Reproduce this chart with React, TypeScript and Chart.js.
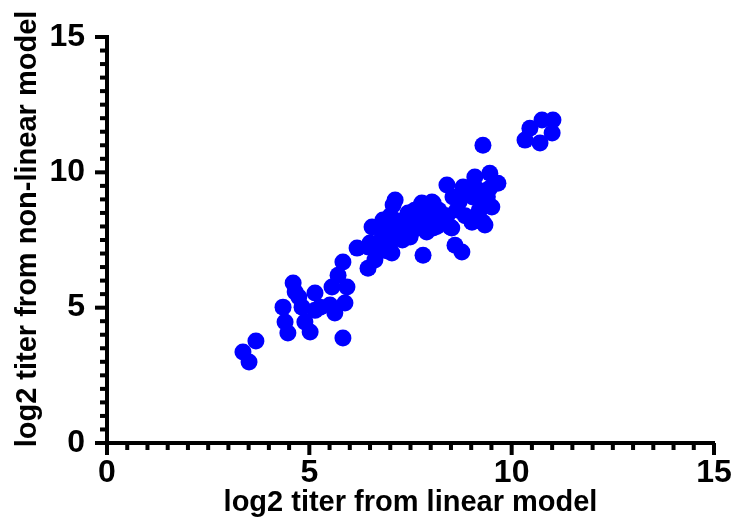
import React, { useEffect, useRef } from "react";
import { Chart, registerables } from "chart.js";

Chart.register(...registerables);

const xValues: number[] = [
  3.36, 3.51, 3.68,
  4.35, 4.6, 4.65, 4.4, 4.47, 4.82, 4.89, 5.02, 5.14, 5.14, 5.51, 5.63, 5.56, 5.71, 5.83, 5.83, 5.88, 5.93, 4.74, 5.27,
  6.18, 6.45, 6.5, 6.62, 6.55, 6.82, 7.04, 7.07, 7.44, 7.81, 7.73, 8.06,
  7.12, 7.44, 7.78, 8.03, 7.49, 7.9, 6.45, 7.24, 6.99,
  6.8, 6.9, 7.0, 7.1, 7.2, 7.3, 7.35, 7.5, 7.6, 7.7, 7.8, 7.9, 8.0, 8.2, 8.3, 7.0, 6.7, 6.9, 7.6, 8.15,
  8.4, 8.52, 8.6, 8.77, 9.02, 9.34, 9.09, 9.46, 9.66, 9.51, 9.29, 8.8, 8.55, 9.04, 9.29, 8.65, 9.29, 8.48, 8.1, 8.06,
  8.9, 9.1, 9.3, 9.45, 8.7, 9.2, 8.85, 9.4, 8.4, 8.7, 9.17,
  10.75, 11.02, 10.45, 10.33, 11.0, 10.7,
];

const yValues: number[] = [
  3.36, 2.99, 3.77,
  5.02, 5.91, 5.58, 4.47, 4.06, 5.02, 4.47, 4.1, 5.54, 4.9, 5.1, 4.8, 5.76, 6.2, 6.69, 3.88, 5.17, 5.76, 5.39, 5.02,
  7.2, 6.46, 7.39, 6.76, 7.98, 8.24, 7.02, 8.79, 7.76, 6.94, 8.72, 7.94,
  8.98, 8.5, 8.87, 8.9, 7.61, 7.8, 7.24, 7.94, 8.16,
  7.6, 7.9, 7.4, 7.7, 8.2, 7.5, 8.0, 8.2, 7.9, 8.3, 8.0, 8.5, 8.2, 8.6, 8.3, 8.4, 7.2, 7.1, 8.6, 8.0,
  9.53, 7.94, 7.31, 7.06, 8.16, 8.05, 9.83, 9.97, 9.6, 8.72, 11.0, 9.46, 9.09, 9.09, 8.87, 8.61, 8.16, 7.98, 8.5, 8.87,
  9.2, 9.4, 9.3, 9.4, 8.9, 8.6, 8.4, 9.1, 8.4, 9.1, 9.35,
  11.93, 11.93, 11.63, 11.19, 11.45, 11.08,
];

const axisMin = 0;
const axisMax = 15;
const majorStep = 5;
const minorStep = 0.5;
const xTitle = "log2 titer from linear model";
const yTitle = "log2 titer from non-linear model";

const FONT = "'Liberation Sans', Arial, sans-serif";

const tickPlugin = {
  id: "prismTicks",
  afterDraw(chart: any) {
    const ctx = chart.ctx;
    const xs = chart.scales.x;
    const ys = chart.scales.y;
    const area = chart.chartArea;
    ctx.save();
    ctx.fillStyle = "#000";
    const w = 4;
    for (let v = axisMin; v <= axisMax + 1e-9; v += minorStep) {
      const isMajor = Math.abs(v / majorStep - Math.round(v / majorStep)) < 1e-9;
      const len = isMajor ? 12 : 7;
      const px = xs.getPixelForValue(v);
      ctx.fillRect(px - w / 2, area.bottom, w, len);
      const py = ys.getPixelForValue(v);
      ctx.fillRect(area.left - len, py - w / 2, len, w);
    }
    ctx.translate(28, 229);
    ctx.rotate(-Math.PI / 2);
    ctx.font = `bold 29px ${FONT}`;
    ctx.textAlign = "center";
    ctx.textBaseline = "middle";
    ctx.fillText(yTitle, 0, 0);
    ctx.restore();
  },
};

export default function App() {
  const canvasRef = useRef<HTMLCanvasElement | null>(null);

  useEffect(() => {
    if (!canvasRef.current) return;
    const points = xValues.map((x, i) => ({ x, y: yValues[i] }));
    const tickCb = (value: any) => {
      const v = Number(value);
      return Math.abs(v % majorStep) < 1e-9 ? String(v) : "";
    };
    const chart = new Chart(canvasRef.current, {
      type: "scatter",
      data: {
        datasets: [
          {
            data: points,
            backgroundColor: "#0000FF",
            borderColor: "#0000FF",
            borderWidth: 0,
            pointRadius: 8.5,
            pointHoverRadius: 8.5,
          },
        ],
      },
      options: {
        animation: false,
        responsive: true,
        maintainAspectRatio: false,
        layout: { padding: { top: 37, right: 39, left: 0, bottom: 0 } },
        plugins: {
          legend: { display: false },
          tooltip: { enabled: false },
        },
        scales: {
          x: {
            type: "linear",
            min: axisMin,
            max: axisMax,
            afterFit: (s: any) => {
              s.height = 83;
            },
            grid: { display: false },
            border: { display: true, color: "#000", width: 4 },
            ticks: {
              stepSize: minorStep,
              autoSkip: false,
              maxRotation: 0,
              callback: tickCb,
              color: "#000",
              padding: 3,
              font: { family: FONT, size: 32, weight: "bold" },
            },
            title: {
              display: true,
              text: xTitle,
              color: "#000",
              padding: { top: 0, bottom: 6 },
              font: { family: FONT, size: 29, weight: "bold" },
            },
          },
          y: {
            type: "linear",
            min: axisMin,
            max: axisMax,
            afterFit: (s: any) => {
              s.width = 107;
            },
            grid: { display: false },
            border: { display: true, color: "#000", width: 4 },
            ticks: {
              stepSize: minorStep,
              autoSkip: false,
              callback: tickCb,
              color: "#000",
              padding: 14,
              font: { family: FONT, size: 32, weight: "bold" },
            },
            title: { display: false },
          },
        },
      },
      plugins: [tickPlugin],
    });
    return () => chart.destroy();
  }, []);

  return (
    <div style={{ position: "fixed", left: 0, top: 0, width: 753, height: 526, background: "#fff" }}>
      <canvas ref={canvasRef} />
    </div>
  );
}
